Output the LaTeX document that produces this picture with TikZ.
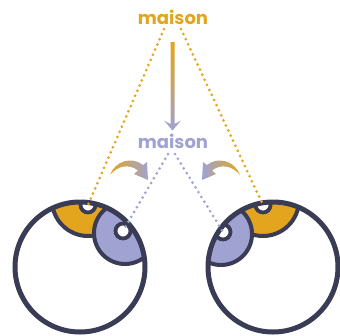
\documentclass[tikz,border=0pt]{standalone}
\usepackage{fontspec}
\setmainfont{Poppins}
\begin{document}
\definecolor{gold}{RGB}{227,165,30}
\definecolor{lilac}{RGB}{160,163,210}
\definecolor{ink}{RGB}{58,59,84}
\tikzset{
  word/.style={font=\bfseries\fontsize{18}{18}\selectfont, inner sep=0pt},
  ball/.style={draw=ink, line width=5pt, fill=white},
  iris/.style={draw=ink, line width=4pt},
  pupil/.style={draw=ink, line width=3.8pt, fill=white},
  sight/.style={line width=3pt, line cap=round, dash pattern=on 0pt off 5.6pt},
}
\begin{tikzpicture}[x=1pt, y=-1pt]
\useasboundingbox (0,0) rectangle (340,335);

% words
\node[word, text=gold] (top) at (173,17.5) {maison};
\node[word, text=lilac] (low) at (173,141.5) {maison};

% vertical gradient arrow
\shade[top color=gold, bottom color=lilac, middle color=gold!55!lilac]
  (170.5,42) -- (174.5,42) -- (174.5,124) -- (181,120.5) -- (172.5,130.5)
  -- (164,120.5) -- (170.5,124) -- cycle;

% eye centres and pupils
\coordinate (lc) at (80,267);
\coordinate (rc) at (273,267);
\coordinate (lo) at (88,205);
\coordinate (lp) at (123,231);
\coordinate (ro) at (263,205);
\coordinate (rp) at (223,232);

% left eye
\fill[white] (lc) circle (65);
\begin{scope}
  \clip (lc) circle (65);
  \draw[iris, fill=gold] (88,200) circle (36);
  \draw[iris, fill=lilac] (125,233) circle (31);
  \draw[pupil] (lo) circle (7.5);
  \draw[pupil] (lp) circle (7.5);
\end{scope}
\draw[ball, fill=none] (lc) circle (65);

% right eye
\fill[white] (rc) circle (65);
\begin{scope}
  \clip (rc) circle (65);
  \draw[iris, fill=gold] (263,200) circle (36);
  \draw[iris, fill=lilac] (221,234) circle (31);
  \draw[pupil] (ro) circle (7.5);
  \draw[pupil] (rp) circle (7.5);
\end{scope}
\draw[ball, fill=none] (rc) circle (65);

% lines of sight
\coordinate (tl) at (164,29);
\coordinate (tr) at (181,29);
\coordinate (bl) at (168,154);
\coordinate (br) at (175,154);
\draw[sight, gold] (tl) -- (lo);
\draw[sight, gold] (tr) -- (ro);
\draw[sight, lilac] (bl) -- (lp);
\draw[sight, lilac] (br) -- (rp);

% curved arrows
\shade[left color=gold, right color=lilac]
  (110,175) .. controls (115,161) and (132,156) .. (143,165)
  -- (147,162) -- (148,180) -- (134,174) -- (138,170.5)
  .. controls (130,164) and (118,165) .. (110,175) -- cycle;
\shade[right color=gold, left color=lilac]
  (240,175) .. controls (235,161) and (218,156) .. (207,165)
  -- (203,162) -- (202,180) -- (216,174) -- (212,170.5)
  .. controls (220,164) and (232,165) .. (240,175) -- cycle;
\end{tikzpicture}
\end{document}
